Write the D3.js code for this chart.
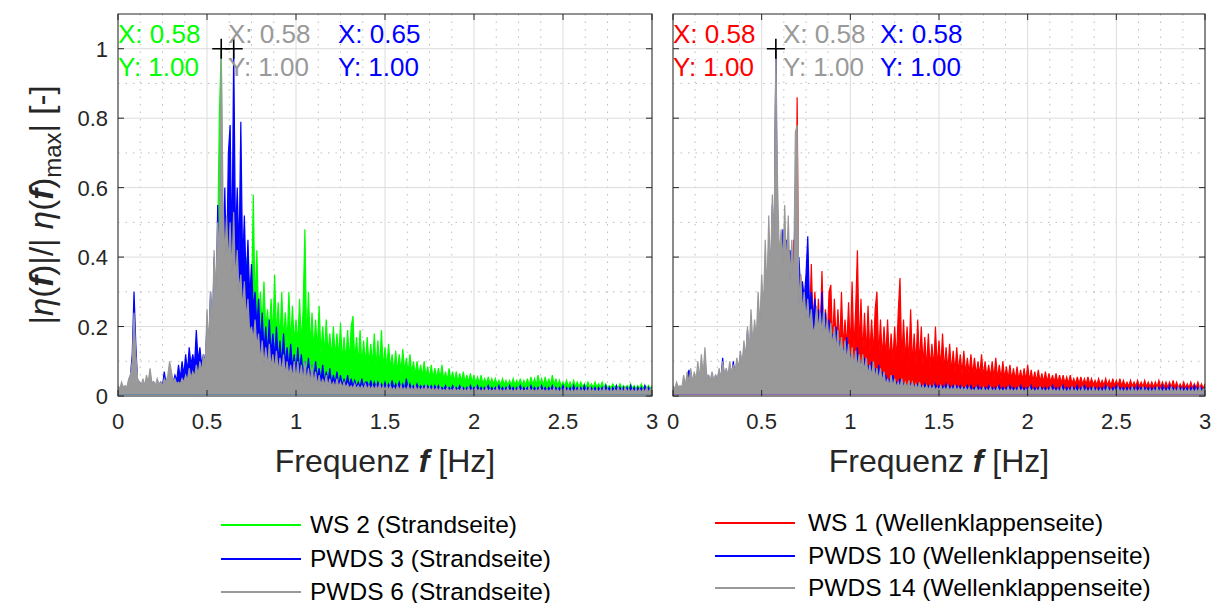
<!DOCTYPE html>
<html>
<head>
<meta charset="utf-8">
<script src="https://cdn.jsdelivr.net/npm/d3@7"></script>
<style>
  body { margin: 0; background: #fff; }
  text { font-family: Arial, "Liberation Sans", Helvetica, sans-serif; }
</style>
</head>
<body>
<svg id="chart" width="1216" height="603"></svg>
<script>
// normalized amplitude spectra |eta(f)|/|eta(f)|max, one value every df Hz starting at 0 Hz
var df = 0.01;

// left panel: Strandseite
var ws2 = [
  0.02,0.015,0.025,0.015,0.02,0.015,0.02,0.015,0.03,0.04,
  0.05,0.02,0.025,0.015,0.02,0.015,0.03,0.015,0.02,0.015,
  0.02,0.015,0.03,0.015,0.02,0.015,0.025,0.015,0.03,0.02,
  0.02,0.015,0.03,0.02,0.04,0.02,0.03,0.02,0.04,0.02,
  0.05,0.03,0.06,0.03,0.05,0.04,0.07,0.04,0.08,0.05,
  0.18,0.10,0.28,0.15,0.35,0.20,0.45,0.82,1.00,0.30,
  0.45,0.30,0.50,0.32,0.42,0.30,0.45,0.30,0.38,0.28,
  0.35,0.25,0.40,0.26,0.30,0.24,0.58,0.25,0.42,0.22,
  0.30,0.20,0.33,0.19,0.25,0.18,0.28,0.17,0.35,0.17,
  0.27,0.16,0.30,0.16,0.24,0.15,0.30,0.15,0.26,0.15,
  0.22,0.15,0.28,0.15,0.25,0.48,0.14,0.30,0.14,0.24,
  0.13,0.22,0.13,0.26,0.12,0.20,0.12,0.22,0.12,0.18,
  0.11,0.20,0.11,0.18,0.11,0.21,0.10,0.17,0.10,0.19,
  0.10,0.20,0.23,0.10,0.17,0.09,0.19,0.09,0.16,0.09,
  0.17,0.09,0.15,0.09,0.18,0.08,0.16,0.08,0.19,0.08,
  0.14,0.08,0.15,0.08,0.12,0.07,0.13,0.07,0.12,0.07,
  0.135,0.07,0.11,0.065,0.12,0.065,0.10,0.06,0.10,0.06,
  0.09,0.055,0.10,0.055,0.085,0.05,0.09,0.05,0.08,0.05,
  0.08,0.05,0.09,0.045,0.07,0.045,0.08,0.045,0.07,0.04,
  0.07,0.04,0.065,0.04,0.07,0.04,0.06,0.04,0.065,0.038,
  0.06,0.037,0.055,0.036,0.06,0.035,0.05,0.035,0.055,0.034,
  0.05,0.033,0.05,0.033,0.045,0.032,0.05,0.032,0.045,0.031,
  0.045,0.031,0.05,0.031,0.045,0.03,0.05,0.03,0.045,0.03,
  0.05,0.03,0.055,0.031,0.05,0.031,0.06,0.032,0.05,0.03,
  0.055,0.03,0.05,0.03,0.06,0.03,0.05,0.029,0.045,0.028,
  0.04,0.028,0.045,0.027,0.04,0.027,0.045,0.026,0.04,0.026,
  0.04,0.026,0.035,0.025,0.04,0.025,0.035,0.025,0.04,0.025,
  0.035,0.025,0.04,0.024,0.035,0.024,0.03,0.024,0.035,0.024,
  0.03,0.023,0.035,0.023,0.03,0.023,0.03,0.022,0.035,0.022,
  0.03,0.022,0.03,0.022,0.035,0.022,0.03,0.021,0.03,0.021,
  0.03
];
var pwds3 = [
  0.02,0.015,0.03,0.02,0.02,0.015,0.04,0.06,0.12,0.30,
  0.15,0.04,0.04,0.03,0.035,0.03,0.04,0.03,0.06,0.03,
  0.04,0.03,0.035,0.03,0.04,0.03,0.07,0.035,0.05,0.035,
  0.045,0.04,0.06,0.045,0.09,0.05,0.10,0.06,0.12,0.07,
  0.14,0.09,0.12,0.09,0.19,0.10,0.14,0.09,0.12,0.10,
  0.20,0.12,0.30,0.15,0.40,0.20,0.55,0.25,0.75,0.30,
  0.60,0.35,0.70,0.78,0.40,1.00,0.45,0.60,0.40,0.79,
  0.38,0.52,0.32,0.45,0.28,0.38,0.25,0.30,0.20,0.28,
  0.15,0.24,0.13,0.20,0.12,0.22,0.12,0.18,0.11,0.20,
  0.10,0.16,0.09,0.18,0.09,0.14,0.08,0.15,0.08,0.12,
  0.07,0.14,0.07,0.12,0.06,0.10,0.06,0.11,0.05,0.09,
  0.05,0.10,0.05,0.08,0.045,0.09,0.04,0.07,0.04,0.08,
  0.035,0.06,0.035,0.07,0.03,0.06,0.03,0.05,0.03,0.06,
  0.028,0.05,0.027,0.045,0.026,0.04,0.025,0.05,0.025,0.04,
  0.04,0.024,0.045,0.024,0.04,0.023,0.04,0.023,0.035,0.022,
  0.04,0.022,0.035,0.022,0.045,0.021,0.035,0.021,0.04,0.021,
  0.035,0.02,0.05,0.02,0.035,0.02,0.03,0.02,0.035,0.02,
  0.03,0.02,0.03,0.019,0.03,0.019,0.03,0.019,0.03,0.018,
  0.03,0.018,0.025,0.018,0.03,0.017,0.025,0.017,0.03,0.017,
  0.025,0.017,0.03,0.017,0.025,0.016,0.025,0.016,0.03,0.016,
  0.025,0.016,0.03,0.016,0.025,0.016,0.025,0.016,0.03,0.016,
  0.025,0.016,0.025,0.016,0.03,0.015,0.025,0.015,0.025,0.015,
  0.03,0.015,0.025,0.015,0.025,0.015,0.03,0.015,0.025,0.015,
  0.025,0.015,0.03,0.015,0.025,0.015,0.025,0.015,0.03,0.015,
  0.025,0.015,0.025,0.015,0.03,0.015,0.025,0.014,0.025,0.014,
  0.03,0.014,0.025,0.014,0.025,0.014,0.03,0.014,0.025,0.014,
  0.025,0.014,0.03,0.014,0.025,0.014,0.025,0.014,0.025,0.014,
  0.025,0.014,0.025,0.014,0.03,0.014,0.025,0.013,0.025,0.013,
  0.03,0.013,0.025,0.013,0.025,0.013,0.025,0.013,0.03,0.013,
  0.025,0.013,0.025,0.013,0.025,0.013,0.03,0.013,0.025,0.013,
  0.025
];
var pwds6 = [
  0.03,0.02,0.04,0.025,0.03,0.025,0.05,0.06,0.10,0.24,
  0.12,0.05,0.04,0.03,0.05,0.03,0.06,0.04,0.08,0.04,
  0.04,0.03,0.05,0.035,0.04,0.03,0.05,0.04,0.06,0.10,
  0.07,0.04,0.05,0.035,0.04,0.035,0.05,0.04,0.06,0.045,
  0.08,0.05,0.07,0.055,0.09,0.06,0.10,0.07,0.12,0.09,
  0.25,0.15,0.30,0.20,0.42,0.30,0.50,0.40,1.00,0.57,
  0.40,0.52,0.38,0.50,0.35,0.53,0.33,0.42,0.30,0.35,
  0.25,0.33,0.22,0.28,0.18,0.20,0.16,0.22,0.14,0.18,
  0.10,0.16,0.09,0.14,0.085,0.15,0.08,0.12,0.075,0.13,
  0.07,0.11,0.065,0.12,0.06,0.10,0.055,0.09,0.05,0.10,
  0.045,0.10,0.045,0.09,0.04,0.10,0.04,0.08,0.035,0.09,
  0.035,0.07,0.03,0.06,0.03,0.05,0.03,0.06,0.028,0.05,
  0.027,0.04,0.025,0.05,0.025,0.04,0.024,0.04,0.023,0.035,
  0.022,0.03,0.021,0.035,0.02,0.03,0.02,0.03,0.019,0.035,
  0.019,0.03,0.018,0.03,0.018,0.03,0.018,0.035,0.017,0.03,
  0.017,0.03,0.017,0.03,0.017,0.025,0.016,0.03,0.016,0.03,
  0.016,0.025,0.016,0.03,0.016,0.025,0.015,0.03,0.015,0.025,
  0.015,0.025,0.015,0.03,0.015,0.025,0.015,0.025,0.014,0.025,
  0.014,0.025,0.014,0.02,0.014,0.025,0.014,0.02,0.014,0.025,
  0.014,0.02,0.014,0.025,0.013,0.02,0.013,0.025,0.013,0.02,
  0.013,0.025,0.013,0.02,0.013,0.02,0.013,0.025,0.013,0.02,
  0.013,0.02,0.013,0.025,0.012,0.02,0.012,0.02,0.012,0.025,
  0.012,0.02,0.012,0.02,0.012,0.025,0.012,0.02,0.012,0.02,
  0.012,0.025,0.012,0.02,0.012,0.02,0.012,0.025,0.012,0.02,
  0.012,0.02,0.012,0.02,0.012,0.025,0.011,0.02,0.011,0.02,
  0.011,0.025,0.011,0.02,0.011,0.02,0.011,0.02,0.011,0.025,
  0.011,0.02,0.011,0.02,0.011,0.025,0.011,0.02,0.011,0.02,
  0.011,0.02,0.011,0.025,0.011,0.02,0.011,0.02,0.011,0.02,
  0.011,0.025,0.011,0.02,0.011,0.025,0.011,0.02,0.011,0.02,
  0.011,0.02,0.011,0.02,0.011,0.02,0.011,0.025,0.011,0.02,
  0.02
];

// right panel: Wellenklappenseite
var ws1 = [
  0.02,0.012,0.015,0.012,0.02,0.012,0.015,0.012,0.02,0.012,
  0.02,0.012,0.02,0.012,0.015,0.012,0.02,0.012,0.015,0.012,
  0.02,0.012,0.015,0.012,0.02,0.012,0.015,0.012,0.02,0.012,
  0.015,0.012,0.02,0.012,0.015,0.012,0.02,0.012,0.02,0.015,
  0.03,0.02,0.03,0.02,0.04,0.025,0.05,0.03,0.06,0.04,
  0.10,0.06,0.15,0.08,0.25,0.10,0.35,0.15,1.00,0.20,
  0.30,0.15,0.35,0.18,0.40,0.15,0.35,0.18,0.45,0.20,
  0.86,0.20,0.35,0.20,0.30,0.18,0.32,0.20,0.38,0.20,
  0.30,0.18,0.28,0.17,0.36,0.17,0.25,0.16,0.30,0.32,
  0.15,0.28,0.15,0.25,0.14,0.30,0.14,0.22,0.14,0.27,
  0.13,0.33,0.13,0.25,0.42,0.13,0.28,0.12,0.24,0.12,
  0.26,0.12,0.22,0.12,0.25,0.30,0.11,0.22,0.11,0.20,
  0.11,0.22,0.10,0.18,0.10,0.20,0.10,0.24,0.34,0.10,
  0.22,0.10,0.20,0.09,0.25,0.09,0.18,0.09,0.22,0.09,
  0.20,0.09,0.17,0.08,0.18,0.08,0.15,0.08,0.20,0.08,
  0.16,0.08,0.18,0.075,0.14,0.075,0.15,0.07,0.13,0.07,
  0.14,0.07,0.12,0.065,0.13,0.065,0.11,0.065,0.12,0.06,
  0.11,0.06,0.10,0.06,0.12,0.055,0.10,0.055,0.09,0.055,
  0.10,0.05,0.11,0.05,0.09,0.05,0.10,0.05,0.085,0.048,
  0.09,0.047,0.08,0.046,0.085,0.045,0.075,0.045,0.08,0.044,
  0.09,0.043,0.075,0.042,0.07,0.042,0.075,0.041,0.065,0.04,
  0.07,0.04,0.065,0.039,0.06,0.039,0.065,0.038,0.06,0.037,
  0.06,0.037,0.055,0.036,0.06,0.036,0.05,0.035,0.055,0.035,
  0.055,0.034,0.05,0.034,0.055,0.033,0.05,0.033,0.045,0.032,
  0.05,0.032,0.045,0.031,0.05,0.031,0.045,0.03,0.05,0.03,
  0.045,0.03,0.05,0.029,0.045,0.029,0.04,0.028,0.045,0.028,
  0.04,0.028,0.045,0.027,0.04,0.027,0.045,0.027,0.04,0.026,
  0.04,0.026,0.04,0.026,0.045,0.025,0.04,0.025,0.04,0.025,
  0.04,0.025,0.045,0.024,0.04,0.024,0.035,0.024,0.04,0.023,
  0.035,0.023,0.04,0.023,0.035,0.023,0.04,0.022,0.035,0.022,
  0.035
];
var pwds10 = [
  0.02,0.015,0.02,0.015,0.02,0.015,0.03,0.02,0.05,0.075,
  0.04,0.03,0.05,0.03,0.04,0.03,0.06,0.035,0.05,0.035,
  0.06,0.035,0.05,0.035,0.06,0.04,0.07,0.045,0.11,0.05,
  0.07,0.05,0.08,0.055,0.10,0.06,0.09,0.065,0.12,0.07,
  0.14,0.09,0.19,0.10,0.15,0.11,0.18,0.12,0.22,0.14,
  0.30,0.18,0.35,0.20,0.45,0.25,0.55,0.30,1.00,0.35,
  0.40,0.30,0.48,0.30,0.45,0.40,0.42,0.38,0.30,0.61,
  0.35,0.40,0.30,0.33,0.28,0.35,0.46,0.25,0.30,0.22,
  0.28,0.18,0.25,0.17,0.30,0.16,0.24,0.14,0.22,0.13,
  0.18,0.11,0.20,0.10,0.16,0.09,0.14,0.085,0.17,0.08,
  0.12,0.055,0.10,0.05,0.14,0.05,0.10,0.045,0.11,0.04,
  0.09,0.04,0.10,0.035,0.08,0.035,0.09,0.03,0.07,0.03,
  0.06,0.03,0.05,0.028,0.06,0.027,0.04,0.026,0.05,0.025,
  0.035,0.024,0.03,0.023,0.035,0.022,0.03,0.022,0.035,0.021,
  0.03,0.02,0.035,0.02,0.03,0.019,0.03,0.019,0.035,0.018,
  0.03,0.018,0.03,0.018,0.035,0.017,0.03,0.017,0.03,0.017,
  0.03,0.017,0.03,0.016,0.025,0.016,0.03,0.016,0.03,0.016,
  0.025,0.016,0.03,0.015,0.025,0.015,0.025,0.015,0.03,0.015,
  0.025,0.015,0.025,0.015,0.03,0.015,0.025,0.015,0.025,0.015,
  0.03,0.015,0.025,0.015,0.025,0.014,0.03,0.014,0.025,0.014,
  0.025,0.014,0.03,0.014,0.025,0.014,0.025,0.014,0.025,0.014,
  0.025,0.014,0.025,0.014,0.03,0.014,0.025,0.014,0.025,0.014,
  0.03,0.014,0.025,0.013,0.025,0.013,0.025,0.013,0.03,0.013,
  0.025,0.013,0.03,0.013,0.025,0.013,0.025,0.013,0.025,0.013,
  0.025,0.013,0.025,0.013,0.03,0.013,0.025,0.013,0.025,0.013,
  0.03,0.013,0.025,0.013,0.025,0.013,0.025,0.012,0.025,0.012,
  0.025,0.012,0.03,0.012,0.025,0.012,0.025,0.012,0.025,0.012,
  0.025,0.012,0.025,0.012,0.025,0.012,0.03,0.012,0.025,0.012,
  0.03,0.012,0.025,0.012,0.025,0.012,0.025,0.012,0.025,0.012,
  0.025,0.012,0.025,0.012,0.03,0.012,0.025,0.012,0.025,0.012,
  0.025
];
var pwds14 = [
  0.03,0.02,0.04,0.025,0.03,0.025,0.06,0.03,0.07,0.04,
  0.08,0.04,0.07,0.045,0.10,0.05,0.12,0.06,0.14,0.06,
  0.06,0.045,0.07,0.045,0.06,0.045,0.08,0.05,0.10,0.06,
  0.08,0.06,0.10,0.065,0.09,0.07,0.11,0.08,0.13,0.09,
  0.16,0.11,0.20,0.13,0.25,0.15,0.22,0.17,0.30,0.20,
  0.35,0.25,0.45,0.30,0.52,0.35,0.58,0.45,1.00,0.60,
  0.40,0.48,0.38,0.55,0.36,0.52,0.33,0.45,0.30,0.76,
  0.78,0.26,0.35,0.24,0.30,0.22,0.28,0.20,0.25,0.18,
  0.20,0.26,0.19,0.24,0.18,0.25,0.17,0.22,0.16,0.21,
  0.14,0.20,0.13,0.19,0.12,0.17,0.11,0.16,0.10,0.15,
  0.09,0.14,0.085,0.13,0.08,0.12,0.075,0.12,0.07,0.11,
  0.06,0.09,0.055,0.10,0.05,0.08,0.045,0.08,0.04,0.07,
  0.03,0.05,0.028,0.06,0.027,0.05,0.025,0.04,0.024,0.05,
  0.023,0.04,0.022,0.045,0.021,0.04,0.02,0.035,0.02,0.04,
  0.019,0.03,0.018,0.03,0.018,0.03,0.017,0.03,0.017,0.025,
  0.016,0.03,0.016,0.025,0.016,0.03,0.015,0.025,0.015,0.03,
  0.015,0.025,0.015,0.025,0.015,0.025,0.014,0.025,0.014,0.02,
  0.014,0.025,0.014,0.02,0.014,0.025,0.013,0.02,0.013,0.025,
  0.013,0.02,0.013,0.025,0.013,0.02,0.013,0.02,0.013,0.025,
  0.013,0.02,0.013,0.02,0.012,0.025,0.012,0.02,0.012,0.02,
  0.012,0.025,0.012,0.02,0.012,0.02,0.012,0.025,0.012,0.02,
  0.012,0.02,0.012,0.025,0.012,0.02,0.012,0.02,0.011,0.025,
  0.011,0.02,0.011,0.02,0.011,0.025,0.011,0.02,0.011,0.02,
  0.011,0.025,0.011,0.02,0.011,0.02,0.011,0.025,0.011,0.02,
  0.011,0.02,0.011,0.02,0.011,0.025,0.011,0.02,0.011,0.02,
  0.011,0.025,0.011,0.02,0.011,0.02,0.011,0.02,0.011,0.025,
  0.011,0.02,0.011,0.02,0.011,0.025,0.011,0.02,0.011,0.02,
  0.011,0.02,0.011,0.025,0.011,0.02,0.011,0.02,0.011,0.02,
  0.011,0.025,0.011,0.02,0.011,0.025,0.011,0.02,0.011,0.02,
  0.011,0.02,0.011,0.02,0.011,0.02,0.011,0.025,0.011,0.02,
  0.02
];

var xTicks = [0, 0.5, 1, 1.5, 2, 2.5, 3],
    yTicks = [0, 0.2, 0.4, 0.6, 0.8, 1];

var leftSeries = [
  {name: "WS 2 (Strandseite)", color: "#00ff00", values: ws2},
  {name: "PWDS 3 (Strandseite)", color: "#0000ff", values: pwds3},
  {name: "PWDS 6 (Strandseite)", color: "#999999", values: pwds6}
];
var rightSeries = [
  {name: "WS 1 (Wellenklappenseite)", color: "#ff0000", values: ws1},
  {name: "PWDS 10 (Wellenklappenseite)", color: "#0000ff", values: pwds10},
  {name: "PWDS 14 (Wellenklappenseite)", color: "#999999", values: pwds14}
];

// data tips (peak positions), in label order
var leftTips = [
  {color: "#00ff00", f: 0.58, a: 1.00},
  {color: "#999999", f: 0.58, a: 1.00},
  {color: "#0000ff", f: 0.65, a: 1.00}
];
var rightTips = [
  {color: "#ff0000", f: 0.58, a: 1.00},
  {color: "#999999", f: 0.58, a: 1.00},
  {color: "#0000ff", f: 0.58, a: 1.00}
];

var svg = d3.select("#chart");
var plotTop = 14, plotBottom = 396;

var panels = [
  {x0: 118, x1: 652, series: leftSeries, tips: leftTips, tipX: [118, 228, 338],
   legend: {lineX: 221, textX: 310, ys: [525, 559, 592]}},
  {x0: 673, x1: 1205, series: rightSeries, tips: rightTips, tipX: [673, 783, 880],
   legend: {lineX: 715, textX: 808, ys: [523, 556, 588]}}
];

var y = d3.scaleLinear().domain([0, 1.1]).range([plotBottom, plotTop]);

panels.forEach(function(p, pi) {
  var x = d3.scaleLinear().domain([0, 3]).range([p.x0, p.x1]);
  var g = svg.append("g");

  // grid: minor dotted, major solid
  var minorX = d3.range(0, 3.001, 0.125).filter(function(v) { return v % 0.5 !== 0; }),
      minorY = d3.range(0.1, 1.1, 0.2);
  g.selectAll(".mx").data(minorX).enter().append("line")
    .attr("x1", function(d) { return x(d); }).attr("x2", function(d) { return x(d); })
    .attr("y1", plotTop).attr("y2", plotBottom)
    .attr("stroke", "#bdbdbd").attr("stroke-width", 1).attr("stroke-dasharray", "1.5,6");
  g.selectAll(".my").data(minorY).enter().append("line")
    .attr("x1", p.x0).attr("x2", p.x1)
    .attr("y1", function(d) { return y(d); }).attr("y2", function(d) { return y(d); })
    .attr("stroke", "#bdbdbd").attr("stroke-width", 1).attr("stroke-dasharray", "1.5,6");
  g.selectAll(".gx").data(xTicks).enter().append("line")
    .attr("x1", function(d) { return x(d); }).attr("x2", function(d) { return x(d); })
    .attr("y1", plotTop).attr("y2", plotBottom)
    .attr("stroke", "#dcdcdc").attr("stroke-width", 1);
  g.selectAll(".gy").data(yTicks).enter().append("line")
    .attr("x1", p.x0).attr("x2", p.x1)
    .attr("y1", function(d) { return y(d); }).attr("y2", function(d) { return y(d); })
    .attr("stroke", "#dcdcdc").attr("stroke-width", 1);

  // spectra: the dense FFT lines read as filled mountains, so fill under each one
  var clipId = "clip" + pi;
  svg.append("clipPath").attr("id", clipId).append("rect")
    .attr("x", p.x0).attr("y", plotTop).attr("width", p.x1 - p.x0).attr("height", plotBottom - plotTop);
  var line = d3.line()
    .x(function(d, i) { return x(i * df); })
    .y(function(d) { return y(d); });
  var area = d3.area()
    .x(function(d, i) { return x(i * df); })
    .y0(y(0.004))
    .y1(function(d) { return y(d); });
  var plot = svg.append("g").attr("clip-path", "url(#" + clipId + ")");
  p.series.forEach(function(s) {
    plot.append("path").datum(s.values)
      .attr("d", area)
      .attr("fill", s.color);
    plot.append("path").datum(s.values)
      .attr("d", line)
      .attr("fill", "none")
      .attr("stroke", s.color)
      .attr("stroke-width", 1.2);
  });

  // box and ticks
  var ax = svg.append("g").attr("stroke", "#262626").attr("stroke-width", 1);
  ax.append("rect").attr("x", p.x0).attr("y", plotTop)
    .attr("width", p.x1 - p.x0).attr("height", plotBottom - plotTop).attr("fill", "none");
  xTicks.forEach(function(t) {
    ax.append("line").attr("x1", x(t)).attr("x2", x(t)).attr("y1", plotBottom).attr("y2", plotBottom - 6);
    ax.append("line").attr("x1", x(t)).attr("x2", x(t)).attr("y1", plotTop).attr("y2", plotTop + 6);
  });
  yTicks.forEach(function(t) {
    ax.append("line").attr("x1", p.x0).attr("x2", p.x0 + 6).attr("y1", y(t)).attr("y2", y(t));
    ax.append("line").attr("x1", p.x1).attr("x2", p.x1 - 6).attr("y1", y(t)).attr("y2", y(t));
  });

  var fmt = d3.format("~g");
  svg.append("g").selectAll("text").data(xTicks).enter().append("text")
    .attr("x", function(d) { return x(d); }).attr("y", 429)
    .attr("text-anchor", "middle").attr("font-size", 22).attr("fill", "#262626")
    .text(fmt);
  if (pi === 0) {
    svg.append("g").selectAll("text").data(yTicks).enter().append("text")
      .attr("x", p.x0 - 10).attr("y", function(d) { return y(d) + 8; })
      .attr("text-anchor", "end").attr("font-size", 22).attr("fill", "#262626")
      .text(fmt);
  }

  // x label
  var xl = svg.append("text").attr("x", (p.x0 + p.x1) / 2).attr("y", 472)
    .attr("text-anchor", "middle").attr("font-size", 32).attr("fill", "#262626");
  xl.append("tspan").text("Frequenz ");
  xl.append("tspan").attr("font-style", "italic").attr("font-weight", "bold").text("f");
  xl.append("tspan").text(" [Hz]");

  // data tip markers and labels
  var marks = [];
  p.tips.forEach(function(t) {
    var key = t.f + "_" + t.a;
    if (marks.indexOf(key) < 0) marks.push(key);
  });
  marks.forEach(function(k) {
    var v = k.split("_").map(Number);
    svg.append("path")
      .attr("d", "M" + (x(v[0]) - 9) + "," + y(v[1]) + "h18M" + x(v[0]) + "," + (y(v[1]) - 10) + "v20")
      .attr("stroke", "#000").attr("stroke-width", 1.6);
  });
  p.tips.forEach(function(t, i) {
    svg.append("text").attr("x", p.tipX[i]).attr("y", 43)
      .attr("font-size", 26).attr("fill", t.color).text("X: " + t.f.toFixed(2));
    svg.append("text").attr("x", p.tipX[i]).attr("y", 76)
      .attr("font-size", 26).attr("fill", t.color).text("Y: " + t.a.toFixed(2));
  });

  // legend
  p.series.forEach(function(s, i) {
    var ly = p.legend.ys[i];
    svg.append("line").attr("x1", p.legend.lineX).attr("x2", p.legend.lineX + 80)
      .attr("y1", ly).attr("y2", ly).attr("stroke", s.color).attr("stroke-width", 2);
    svg.append("text").attr("x", p.legend.textX).attr("y", ly + 8)
      .attr("font-size", 24.5).attr("fill", "#000").text(s.name);
  });
});

// y label
var yl = svg.append("text")
  .attr("transform", "translate(53,205) rotate(-90)")
  .attr("text-anchor", "middle").attr("font-size", 33).attr("fill", "#262626");
yl.append("tspan").text("|");
yl.append("tspan").attr("font-style", "italic").text("η");
yl.append("tspan").text("(");
yl.append("tspan").attr("font-style", "italic").attr("font-weight", "bold").text("f");
yl.append("tspan").text(")|/| ");
yl.append("tspan").attr("font-style", "italic").text("η");
yl.append("tspan").text("(");
yl.append("tspan").attr("font-style", "italic").attr("font-weight", "bold").text("f");
yl.append("tspan").text(")");
yl.append("tspan").attr("font-size", 24).attr("dy", 8).text("max");
yl.append("tspan").attr("dy", -8).text("| [-]");
</script>
</body>
</html>
